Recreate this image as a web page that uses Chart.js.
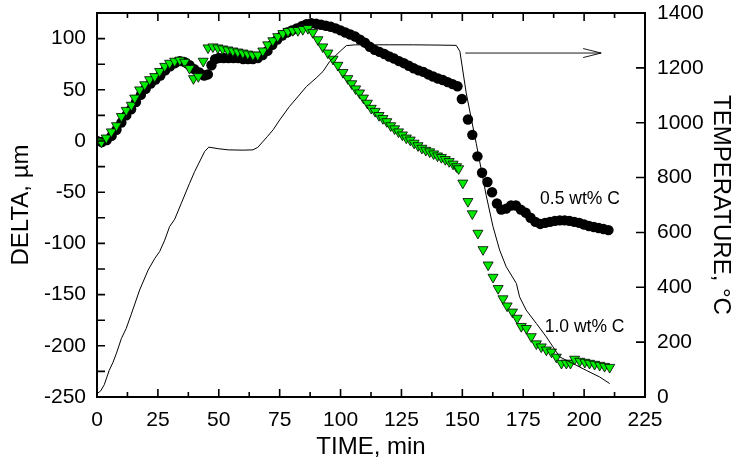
<!DOCTYPE html>
<html>
<head>
<meta charset="utf-8">
<script src="https://cdn.jsdelivr.net/npm/chart.js@4"></script>
<style>
    html, body { margin: 0; padding: 0; background: #fff; }
    #wrap { width: 735px; height: 463px; }
</style>
</head>
<body>
<div id="wrap"><canvas id="myChart" width="735" height="463"></canvas></div>
<script>
// furnace temperature (right axis)
const tempTime = [0, 1.5, 3, 5, 6.5, 8, 10, 12, 14, 17.5, 21, 23.7, 25.7, 27.8, 29.8, 31.9, 34.6, 38, 40.1, 44.2, 45.9, 50, 54, 60, 64, 66, 68, 70, 72.3, 75, 79, 82, 86, 90, 92.8, 95.5, 98, 100, 102.4, 106, 112, 120, 130, 140, 147.5, 149, 151.6, 155.7, 159.8, 162.6, 165.3, 168, 172.2, 173.5, 176.2, 180.4, 184.5, 187.2, 190, 195.4, 200.9, 206.4, 210.5]
const tempValues = [12, 22, 45, 97, 125, 160, 213, 250, 300, 390, 463, 505, 530, 572, 621, 648, 706, 779, 822, 895, 911, 905, 901, 900, 901, 910, 930, 950, 974, 1010, 1059, 1090, 1132, 1163, 1187, 1223, 1245, 1262, 1281, 1284, 1284, 1284, 1284, 1283, 1282, 1260, 1108, 925, 735, 621, 536, 475, 414, 365, 317, 268, 219, 183, 146, 122, 97, 73, 49]

// 0.5 wt% C (circles)
const lowCTime = [0, 2, 4, 6, 8, 10, 12, 14, 16, 18, 20, 22, 24, 26, 28, 30, 32, 34, 36, 38, 40, 42, 44, 45.5, 47, 48.5, 50, 52, 54, 56, 58, 60, 62, 64, 66, 68, 70, 72, 74, 76, 78, 80, 82, 84, 86, 88, 90, 92, 94, 96, 98, 100, 102, 104, 106, 108, 110, 112, 114, 116, 118, 120, 122, 124, 126, 128, 130, 132, 134, 136, 138, 140, 142, 144, 146, 148, 149.8, 152.3, 154.1, 156.2, 158.1, 160.3, 162.2, 164.2, 166, 168, 170, 172, 174, 176, 178, 180, 182, 184, 186, 188, 190, 192, 194, 196, 198, 200, 202, 204, 206, 208, 210]
const lowCDelta = [0, -1, 1, 5, 11, 18, 25, 31, 38, 45, 51, 56, 60, 64, 69, 73, 76, 78, 77, 74, 70, 67, 64, 65, 74, 80, 81, 81, 81, 81, 81, 80, 80, 80, 81, 84, 88, 94, 99, 103, 106, 108, 110, 112, 114, 115, 114.5, 113.5, 112.5, 111.5, 110, 108, 106, 104, 102, 99, 96, 92, 89, 87, 85, 82.5, 80.5, 78, 76, 73.5, 71, 69, 67.5, 65, 63, 61, 59.5, 57.5, 55.5, 53.5, 41, 21, 6, -15, -31, -40, -50, -61, -67, -66, -63, -63, -67, -70, -75, -79, -81, -80, -79, -78, -77.5, -77.5, -78, -79, -80, -81.5, -83, -84, -85, -86, -87]

// 1.0 wt% C (triangles)
const highCTime = [0, 1.8, 3.8, 5.9, 8, 10, 12, 14.1, 15.5, 17.5, 19.6, 21.6, 23.7, 25.7, 27.8, 29.8, 31.9, 34, 36, 38, 39.6, 41.6, 43.6, 45.6, 47.6, 49.6, 51.6, 53.7, 55.8, 57.8, 59.9, 61.9, 64, 66, 68.1, 70.1, 72.2, 74.2, 76.3, 78.4, 80.4, 82.5, 84.5, 86.6, 88.6, 90.7, 92.7, 94.8, 96.9, 98.9, 101, 103, 104.6, 106.2, 107.8, 109.4, 111, 112.6, 114.2, 115.8, 117.4, 119, 120.6, 122.2, 123.8, 125.4, 127, 128.6, 130.2, 131.8, 133.4, 135, 136.6, 138.2, 139.8, 141.4, 143, 144.6, 146.2, 147.6, 148.5, 150.2, 152.3, 154.1, 156.4, 158.5, 160.6, 162.6, 164.7, 166.7, 168.4, 170.6, 172.5, 174.2, 176.3, 178.3, 180.4, 182.4, 184.5, 186.6, 188.6, 190.7, 192.7, 194.4, 196.1, 198.2, 200.3, 202.2, 204.3, 206.4, 208.4, 210.5]
const highCDelta = [0, -1, 3, 9, 15, 24, 30, 35, 42, 50, 55, 60, 63, 68, 73, 76, 78, 79, 77, 71, 61, 63, 78, 91, 92, 91, 90, 89, 88, 87, 86, 85, 84, 84, 88, 94, 98, 102, 105, 107, 108, 108, 109, 110, 106, 99, 92, 86, 80, 74, 67, 61, 56, 51, 47, 42, 37, 32, 29, 25, 22, 19, 15, 12, 9, 6, 3, 1, -2, -4.5, -7, -9, -10.5, -12.5, -14.5, -16, -18, -20, -22.5, -25, -27, -41, -59, -71, -90, -106, -121, -133, -144, -154, -161, -167, -173, -181, -183, -191, -198, -201, -204, -206, -211, -217, -217, -217, -213, -215, -216, -217, -218, -219, -220, -221]

// tick values
const timeTicks = [0, 25, 50, 75, 100, 125, 150, 175, 200, 225]
const deltaTicks = [-250, -200, -150, -100, -50, 0, 50, 100]
const tempTicks = [0, 200, 400, 600, 800, 1000, 1200, 1400]

const fontFamily = '"Liberation Sans", Arial, Helvetica, sans-serif'
const ctx = document.getElementById('myChart')

const toPoints = (xs, ys) => xs.map((x, i) => ({ x: x, y: ys[i] }))

// fixed box sizes, no extra label padding
const fixBox = (w, h) => (s) => {
    if (w) s.width = w
    if (h) s.height = h
    s.paddingTop = 0
    s.paddingBottom = 0
    s.paddingLeft = 0
    s.paddingRight = 0
}

// inward ticks, frame, arrow and the two labels
const decorPlugin = {
    id: 'decor',
    afterDraw(chart) {
        const c = chart.ctx
        const a = chart.chartArea
        const sx = chart.scales.x
        const sy = chart.scales.y
        const st = chart.scales.yT
        c.save()
        c.strokeStyle = '#000'
        c.lineWidth = 1.6
        c.beginPath()
        for (let i = 0; i < timeTicks.length; i++) {
            const px = sx.getPixelForValue(timeTicks[i])
            c.moveTo(px, a.bottom); c.lineTo(px, a.bottom - 8)
            c.moveTo(px, a.top); c.lineTo(px, a.top + 8)
            if (i < timeTicks.length - 1) {
                const mx = sx.getPixelForValue((timeTicks[i] + timeTicks[i + 1]) / 2)
                c.moveTo(mx, a.bottom); c.lineTo(mx, a.bottom - 5)
                c.moveTo(mx, a.top); c.lineTo(mx, a.top + 5)
            }
        }
        for (let i = 0; i < deltaTicks.length; i++) {
            const py = sy.getPixelForValue(deltaTicks[i])
            c.moveTo(a.left, py); c.lineTo(a.left + 8, py)
            const my = sy.getPixelForValue(deltaTicks[i] + 25)
            c.moveTo(a.left, my); c.lineTo(a.left + 8, my)
        }
        tempTicks.forEach((v) => {
            const py = st.getPixelForValue(v)
            c.moveTo(a.right, py); c.lineTo(a.right - 9, py)
        })
        c.stroke()

        c.lineWidth = 2
        c.strokeRect(a.left, a.top, a.right - a.left, a.bottom - a.top)

        // arrow pointing to the temperature axis
        const ax1 = sx.getPixelForValue(151.2)
        const ax2 = sx.getPixelForValue(207)
        const ay = st.getPixelForValue(1254)
        c.lineWidth = 0.9
        c.beginPath()
        c.moveTo(ax1, ay); c.lineTo(ax2, ay)
        c.moveTo(ax2 - 18, ay - 4.5); c.lineTo(ax2, ay); c.lineTo(ax2 - 18, ay + 4.5)
        c.stroke()

        c.fillStyle = '#000'
        c.font = '17.5px ' + fontFamily
        c.textAlign = 'center'
        c.textBaseline = 'middle'
        c.fillText('0.5 wt% C', sx.getPixelForValue(198.3), sy.getPixelForValue(-56.6))
        c.fillText('1.0 wt% C', sx.getPixelForValue(200.2), sy.getPixelForValue(-182))
        c.restore()
    }
}

const tickFont = { family: fontFamily, size: 21 }
const titleFont = { family: fontFamily, size: 24 }

const config = {
    type: 'scatter',
    data: {
        datasets: [
            {
                label: 'Temperature',
                data: toPoints(tempTime, tempValues),
                yAxisID: 'yT',
                showLine: true,
                borderColor: '#000',
                borderWidth: 1,
                pointRadius: 0,
                tension: 0,
                order: 0,
            },
            {
                label: '1.0 wt% C',
                data: toPoints(highCTime, highCDelta),
                yAxisID: 'y',
                pointStyle: 'triangle',
                rotation: 180,
                pointRadius: 5.8,
                backgroundColor: 'rgb(0, 235, 0)',
                borderColor: '#000',
                borderWidth: 0.8,
                order: 1,
            },
            {
                label: '0.5 wt% C',
                data: toPoints(lowCTime, lowCDelta),
                yAxisID: 'y',
                pointRadius: 5.2,
                backgroundColor: '#000',
                borderColor: '#000',
                borderWidth: 0,
                order: 2,
            },
        ],
    },
    options: {
        responsive: false,
        animation: false,
        layout: { padding: { top: 13, left: 0, right: 0, bottom: 0 } },
        plugins: {
            legend: { display: false },
            tooltip: { enabled: false },
        },
        scales: {
            x: {
                type: 'linear',
                position: 'bottom',
                min: 0,
                max: 225,
                afterFit: fixBox(0, 66),
                grid: { display: false, drawTicks: false },
                border: { display: false },
                ticks: { stepSize: 25, color: '#000', font: tickFont, padding: 11, maxRotation: 0 },
                title: { display: true, text: 'TIME, min', color: '#000', font: titleFont, padding: { top: 0, bottom: 1 } },
            },
            y: {
                type: 'linear',
                position: 'left',
                min: -250,
                max: 125,
                afterFit: fixBox(97, 0),
                grid: { display: false, drawTicks: false },
                border: { display: false },
                ticks: {
                    stepSize: 50,
                    includeBounds: false,
                    color: '#000',
                    font: tickFont,
                    padding: 11,
                    callback: (v) => deltaTicks.includes(v) ? String(v) : '',
                },
                title: { display: true, text: 'DELTA, µm', color: '#000', font: titleFont, padding: { top: 7, bottom: 0 } },
            },
            yT: {
                type: 'linear',
                position: 'right',
                min: 0,
                max: 1400,
                afterFit: fixBox(90, 0),
                grid: { display: false, drawTicks: false },
                border: { display: false },
                ticks: { stepSize: 200, color: '#000', font: tickFont, padding: 12, callback: (v) => String(v) },
                title: { display: true, text: 'TEMPERATURE, °C', color: '#000', font: titleFont, padding: { top: 0, bottom: 0 } },
            },
        },
    },
    plugins: [decorPlugin],
}

const myChart = new Chart(ctx, config)
</script>
</body>
</html>
